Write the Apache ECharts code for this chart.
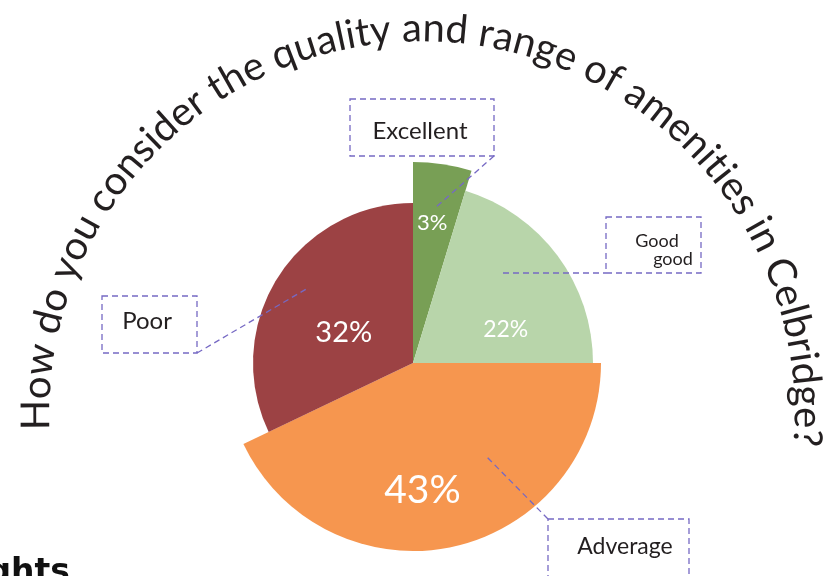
<!DOCTYPE html>
<html>
<head>
<meta charset="utf-8">
<script src="https://cdn.jsdelivr.net/npm/echarts@6/dist/echarts.min.js"></script>
<style>
  html, body { margin: 0; padding: 0; background: #fff; }
  #chart { width: 829px; height: 576px; }
</style>
</head>
<body>
<div id="chart"></div>
<script>
// data (clockwise from 12 o'clock)
const categories = ['Excellent', 'Good good', 'Adverage', 'Poor']
const shares = [4.7, 20.3, 42.9, 32.1]          // slice sizes as drawn
const shareLabels = ['3%', '22%', '43%', '32%'] // printed percentages
const titleText = 'How do you consider the quality and range of amenities in Celbridge?'

// styling
const colors = ['#789f55', '#b8d5aa', '#f6964f', '#9c4244']
const outerRadius = [201, 180, 188, 160]
const labelSize = [22, 23, 39, 29]
const labelOffset = [[4, -38], [18, 22], [-12, 33], [1, 14]]
const center = [413, 363]
const FONT = 'Lato, "Noto Sans", sans-serif'
const dashColor = '#7669c4'

const chart = echarts.init(document.getElementById('chart'))

// one pie per slice so every slice can have its own radius
const series = categories.map((name, i) => ({
  type: 'pie',
  silent: true,
  animation: false,
  center,
  radius: [0, outerRadius[i]],
  startAngle: 90,
  clockwise: true,
  avoidLabelOverlap: false,
  labelLine: { show: false },
  data: categories.map((c, j) => ({
    name: c,
    value: shares[j],
    itemStyle: { color: j === i ? colors[j] : 'rgba(0,0,0,0)' },
    label: j === i ? {
      show: true,
      position: 'inside',
      formatter: shareLabels[j],
      color: '#fff',
      fontFamily: FONT,
      fontWeight: 'normal',
      fontSize: labelSize[j],
      offset: labelOffset[j]
    } : { show: false }
  }))
}))

// curved title, one character at a time along an arc
const arc = { cx: 422, cy: 414, r: 372, from: -92.5, to: 95 }
const measure = document.createElement('canvas').getContext('2d')
measure.font = '42px ' + FONT
let total = 0
for (const ch of titleText) total += measure.measureText(ch).width
const arcLen = arc.r * (arc.to - arc.from) * Math.PI / 180
const fs = 42 * arcLen / total
measure.font = fs + 'px ' + FONT
const titleChars = []
let s = 0
for (const ch of titleText) {
  const w = measure.measureText(ch).width
  const phi = (arc.from * Math.PI / 180) + (s + w / 2) / arc.r
  const rr = arc.r + fs * 0.34
  titleChars.push({
    type: 'text',
    x: arc.cx + rr * Math.sin(phi),
    y: arc.cy - rr * Math.cos(phi),
    rotation: -phi,
    style: {
      text: ch,
      fontFamily: FONT,
      fontSize: fs,
      fill: '#231f20',
      align: 'center',
      verticalAlign: 'middle'
    }
  })
  s += w
}

const box = (x, y, w, h) => ({
  type: 'rect',
  z: 100,
  shape: { x, y, width: w, height: h },
  style: { fill: 'none', stroke: dashColor, lineWidth: 1.3, lineDash: [6, 4] }
})
const leader = (x1, y1, x2, y2) => ({
  type: 'line',
  z: 100,
  shape: { x1, y1, x2, y2 },
  style: { stroke: dashColor, lineWidth: 1.3, lineDash: [6, 4] }
})
const note = (text, x, y, size) => ({
  type: 'text',
  z: 100,
  x, y,
  style: {
    text, fontFamily: FONT, fontSize: size, fill: '#231f20',
    align: 'center', verticalAlign: 'middle'
  }
})

chart.setOption({
  backgroundColor: '#fff',
  series,
  graphic: [
    ...titleChars,
    box(350, 99, 144, 57), leader(494, 156, 435, 208), note('Excellent', 420, 131, 24),
    box(606, 217, 95, 56), leader(503, 273, 606, 273), note('Good', 657, 241, 18), note('good', 673, 259, 18),
    box(102, 296, 95, 57), leader(197, 353, 308, 288), note('Poor', 147, 321, 24),
    box(548, 519, 141, 60), leader(548, 519, 485, 455), note('Adverage', 625, 547, 23),
    {
      type: 'text', x: 70, y: 573,
      style: {
        text: 'Insights', fontFamily: '"DejaVu Sans", sans-serif', fontWeight: 'bold',
        fontSize: 33, fill: '#111', align: 'right', verticalAlign: 'middle'
      }
    }
  ]
})
</script>
</body>
</html>
